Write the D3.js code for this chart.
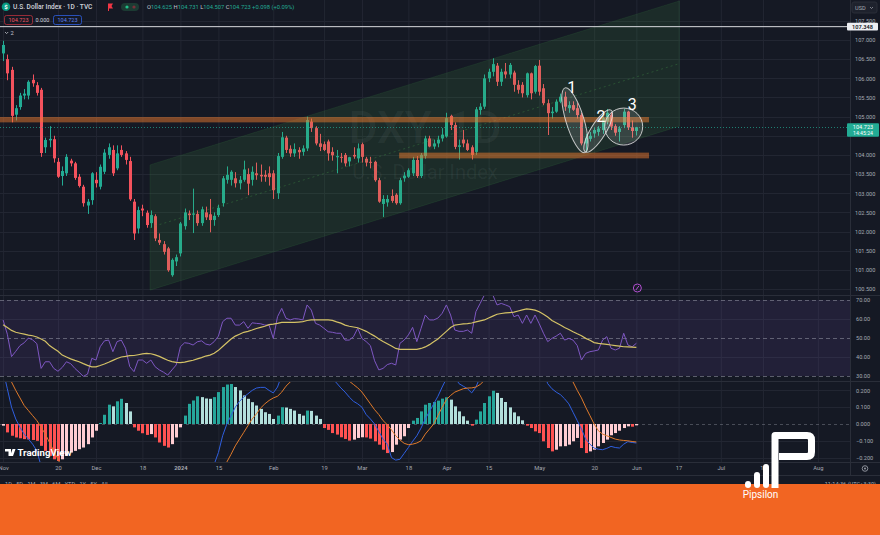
<!DOCTYPE html>
<html><head><meta charset="utf-8">
<script src="https://cdn.jsdelivr.net/npm/d3@7"></script>
<style>
html,body{margin:0;padding:0;background:#151924;overflow:hidden;}
svg{display:block;font-family:Roboto,"Noto Sans",sans-serif;}
</style></head><body>
<svg id="c" width="880" height="535"></svg>
<script>
// ---------- DATA ----------
const opens  = [106.65,106.50,106.22,105.05,105.25,105.55,105.55,105.96,105.82,105.70,104.20,104.38,104.41,103.82,103.45,103.52,103.85,103.78,103.43,103.17,102.68,102.82,103.35,103.17,103.56,104.00,104.13,103.65,104.13,104.04,103.84,102.78,102.08,102.60,102.49,102.22,102.40,101.78,101.67,101.56,100.86,101.22,101.43,102.14,102.47,102.44,102.46,102.22,102.50,102.45,102.30,102.43,102.74,103.35,103.35,103.39,103.26,103.35,103.50,103.35,103.52,103.48,103.48,103.52,103.52,103.00,103.95,104.45,104.16,104.04,104.13,104.08,104.17,104.87,104.70,104.30,104.28,104.35,104.08,103.94,103.95,104.00,103.83,104.00,103.91,104.28,103.90,103.82,103.82,103.34,102.72,102.76,102.93,102.96,102.74,103.39,103.43,103.52,103.87,103.45,103.97,104.43,104.22,104.30,104.43,104.48,105.02,104.78,104.21,104.40,104.30,104.20,104.08,105.17,105.26,106.00,106.17,106.33,105.91,106.18,106.10,106.15,105.83,105.83,105.56,106.13,105.65,106.33,105.74,105.35,105.09,105.13,105.39,105.52,105.22,105.30,105.22,105.04,104.30,104.42,104.56,104.60,104.65,104.87,105.04,104.75,104.60,104.78,105.13,104.72,104.625];
const highs  = [106.98,106.62,106.30,105.30,105.62,105.72,105.95,106.10,105.90,105.75,104.45,104.75,104.50,103.92,103.70,104.02,103.90,103.82,103.50,103.22,102.85,103.55,103.55,103.75,104.15,104.30,104.25,104.25,104.25,104.10,103.95,102.85,102.65,102.70,102.55,102.55,102.45,101.95,101.75,101.60,101.30,101.40,102.25,102.60,102.55,103.12,102.55,102.65,102.65,102.85,102.50,102.70,103.45,103.70,103.60,103.55,103.45,103.85,103.65,103.70,103.80,103.75,103.60,103.70,103.60,104.05,104.60,104.50,104.25,104.30,104.20,104.25,105.00,104.95,104.75,104.55,104.35,104.40,104.20,104.13,104.05,104.05,103.95,104.20,104.30,104.32,103.95,103.95,103.85,103.40,102.95,102.95,103.10,103.00,103.40,103.55,103.65,103.95,103.97,104.05,104.50,104.50,104.40,104.50,104.70,105.10,105.05,104.85,104.40,104.65,104.40,104.25,105.25,105.35,106.10,106.25,106.52,106.40,106.25,106.40,106.40,106.20,105.95,105.90,106.15,106.15,106.35,106.48,105.85,105.45,105.25,105.45,105.60,105.65,105.40,105.40,105.35,105.10,104.55,104.60,104.70,104.75,105.00,105.20,105.10,104.80,104.75,105.20,105.15,104.90,104.731];
const lows   = [106.45,105.95,104.85,104.90,105.18,105.45,105.45,105.78,105.55,103.95,104.05,104.20,103.80,103.40,103.20,103.45,103.70,103.35,103.15,102.65,102.46,102.70,103.15,103.10,103.50,103.90,103.45,103.60,103.95,103.75,102.80,101.78,101.95,102.40,102.10,102.10,101.75,101.65,101.40,100.95,100.82,101.10,101.35,102.05,102.30,101.96,102.15,102.15,102.30,101.98,102.15,102.38,102.65,103.25,103.20,103.15,103.10,103.30,102.95,103.20,103.35,103.30,103.30,103.20,102.85,102.85,103.90,104.05,103.95,103.95,103.90,103.98,104.10,104.60,104.25,104.10,104.10,103.85,103.85,103.52,103.80,103.70,103.70,103.90,103.80,103.80,103.70,103.65,103.30,102.75,102.38,102.65,102.75,102.70,102.70,103.30,103.40,103.45,103.40,103.40,103.90,104.20,104.15,104.20,104.35,104.45,104.65,104.15,103.88,104.20,104.10,103.88,104.00,105.05,105.20,105.90,106.05,105.80,105.80,106.00,106.00,105.65,105.60,105.50,105.50,105.45,105.60,105.55,105.30,104.52,104.95,105.10,105.35,105.15,105.10,105.15,104.95,104.25,104.08,104.35,104.45,104.50,104.55,104.80,104.65,104.50,104.35,104.70,104.65,104.45,104.507];
const closes = [106.87,106.13,105.02,105.22,105.55,105.60,105.91,105.87,105.62,104.05,104.39,104.42,103.91,103.43,103.58,103.95,103.78,103.40,103.19,102.74,102.78,103.52,103.26,103.69,104.06,104.20,103.52,104.04,104.00,103.87,102.84,101.95,102.56,102.55,102.17,102.43,101.82,101.71,101.47,100.99,101.26,101.33,102.21,102.50,102.43,102.47,102.22,102.58,102.37,102.30,102.41,102.62,103.39,103.48,103.56,103.26,103.35,103.62,103.25,103.56,103.47,103.44,103.43,103.42,103.08,103.97,104.46,104.13,104.04,104.15,104.07,104.17,104.91,104.70,104.30,104.21,104.13,104.04,103.99,103.97,103.93,103.78,103.94,103.96,104.17,103.95,103.80,103.81,103.34,102.78,102.85,102.85,102.80,102.74,103.34,103.46,103.60,103.87,103.45,104.00,104.43,104.22,104.30,104.40,104.53,104.96,104.78,104.21,104.25,104.30,104.13,104.00,105.19,105.26,106.00,106.17,106.37,105.91,106.17,106.10,106.35,105.83,105.70,105.61,106.13,105.61,106.32,105.65,105.35,105.09,105.13,105.39,105.52,105.26,105.30,105.18,105.04,104.30,104.45,104.50,104.65,104.69,104.96,105.10,104.74,104.58,104.69,105.13,104.72,104.625,104.723];

const rsiValues = [59.5,52,40.2,43,46,47.5,50,49,47,34, 37.5,37.5,34,32.5,34.5,37.5,36.5,34,32,29.8, 31,39.3,38.4,45.4,48.5,48.9,42.8,48.1,48.9,44.6, 34.9,32.3,38.4,38.4,36.7,38.4,34.9,33.2,32,30.5, 33.2,35.8,45.4,47.5,47.2,46.3,48,48.5,46.8,46.3, 48.1,51,58.6,60.4,60.4,56.8,56.8,58.6,55.1,58, 57.7,57.5,56.8,56.8,49.8,61.2,65.6,60.4,59.5,60.2, 60,59.5,67.4,64.7,57.7,56.8,55.1,53.3,53,52.5, 52.5,48.9,48.9,50.7,55.1,49.8,48.1,46,38,33.2, 34,36,36.7,35.8,47.2,48.9,51.6,55.6,48.1,55.1, 62.1,59.5,59.5,60.5,63,67.4,62.1,54.2,53.5,53.5, 54.2,52.5,63.9,68.2,72.6,73.5,72.6,67.4,68.2,67.4, 66.5,61.2,62.1,57.7,62.1,57.7,62.1,57.5,52.5,48.1, 49.8,51,52.5,48.9,49.8,48.9,46,38.4,41.9,42.8, 43.2,43.7,48.9,50.7,44.6,43.7,44.6,52.5,46.3,45.4,47.2];
const rsiMA = [57,55.5,54,53,52.5,52,51.5,51.2,50.5,49.5, 48.3,46,44.5,43,41,40,39,38.2,37.5,36.5, 35.6,34.8,34.8,35.5,36.3,37.2,38.2,39.2,40,40.3, 40.7,40.8,41.2,41.6,41.9,41.7,41.1,40.3,39.3,38.3, 37.6,37.2,37,37.3,37.8,38.3,39,39.7,40.5,41, 42,43.5,45.5,47.5,49.5,51,52,53,53.5,54.2, 55,55.6,56.2,57,57.3,57.7,58.2,58.2,58.2,58.2, 58.4,58.6,59.2,59.5,59.5,59.5,59.5,59.5,59.3,58.5, 57.8,56.8,56.2,55.8,55.4,54.5,53.5,52.2,51,49.5, 48.2,47,45.8,44.5,44,44,44,44,44,44.5, 45.3,46.5,48,49.5,51.5,53.5,55.5,56.8,57.1,57.4, 57.6,57.9,58.5,59,59.5,60.5,61.5,62.5,62.9,63.2, 63.4,63.6,64.2,64.8,65.3,65.1,64.7,63.8,62.5,61, 59.2,58,56.8,55.5,54.5,53.3,52.2,51.2,49.8,48.8, 47.6,47.2,46.9,46.6,46.3,46,45.7,45.4,45.3,45.2,45.1];

const macdLine = [0.32,0.21,0.10,0.03,-0.02,-0.06,-0.09,-0.12,-0.16,-0.25, -0.31,-0.37,-0.43,-0.49,-0.51,-0.53,-0.55,-0.57,-0.60,-0.64, -0.65,-0.62,-0.60,-0.55,-0.50,-0.44,-0.42,-0.37,-0.34,-0.35, -0.39,-0.48,-0.51,-0.53,-0.55,-0.56,-0.60,-0.65,-0.69,-0.72, -0.72,-0.70,-0.64,-0.56,-0.46,-0.41,-0.35,-0.31,-0.28,-0.27, -0.24,-0.17,-0.07,0.0,0.05,0.10,0.135,0.16,0.18,0.20, 0.214,0.218,0.218,0.20,0.185,0.22,0.29,0.33,0.34,0.35, 0.35,0.35,0.40,0.42,0.40,0.39,0.33,0.30,0.27,0.244, 0.215,0.19,0.16,0.135,0.12,0.10,0.056,0.03,0.0,-0.045, -0.09,-0.12,-0.20,-0.215,-0.21,-0.175,-0.14,-0.103,-0.07,-0.024, 0.03,0.075,0.12,0.165,0.22,0.27,0.30,0.28,0.24,0.225, 0.21,0.185,0.22,0.28,0.37,0.44,0.50,0.53,0.55,0.56, 0.56,0.54,0.52,0.50,0.47,0.44,0.41,0.37,0.31,0.24, 0.21,0.19,0.175,0.15,0.12,0.07,0.02,-0.03,-0.09,-0.12, -0.143,-0.15,-0.153,-0.145,-0.133,-0.14,-0.143,-0.12,-0.105,-0.11,-0.113];
const signalLine = [0.30,0.28,0.25,0.20,0.155,0.11,0.08,0.05,0.02,-0.02, -0.06,-0.11,-0.16,-0.21,-0.26,-0.31,-0.35,-0.39,-0.43,-0.47, -0.50,-0.53,-0.55,-0.56,-0.56,-0.55,-0.53,-0.51,-0.49,-0.47, -0.46,-0.46,-0.47,-0.48,-0.49,-0.50,-0.52,-0.54,-0.56,-0.58, -0.60,-0.62,-0.62,-0.61,-0.58,-0.55,-0.51,-0.47,-0.43,-0.39, -0.35,-0.31,-0.27,-0.226,-0.18,-0.13,-0.09,-0.05,-0.01,0.03, 0.06,0.095,0.12,0.14,0.155,0.165,0.19,0.225,0.25,0.27, 0.29,0.30,0.32,0.34,0.35,0.355,0.35,0.34,0.33,0.315, 0.295,0.275,0.255,0.235,0.215,0.19,0.155,0.12,0.085,0.056, 0.02,-0.004,-0.035,-0.07,-0.095,-0.115,-0.123,-0.12,-0.113,-0.10, -0.06,-0.03,0.0,0.05,0.10,0.145,0.17,0.19,0.20,0.21, 0.214,0.215,0.22,0.235,0.26,0.29,0.33,0.37,0.40,0.43, 0.45,0.46,0.465,0.46,0.455,0.445,0.43,0.415,0.40,0.38, 0.36,0.34,0.32,0.30,0.28,0.25,0.20,0.155,0.10,0.05, 0.0,-0.04,-0.06,-0.07,-0.08,-0.09,-0.095,-0.098,-0.10,-0.104,-0.107];
const histogram = [-0.01,-0.05,-0.07,-0.08,-0.085,-0.09,-0.092,-0.095,-0.10,-0.13, -0.16,-0.19,-0.21,-0.22,-0.21,-0.19,-0.17,-0.16,-0.15,-0.14, -0.12,-0.08,-0.04,0.006,0.055,0.115,0.105,0.135,0.15,0.125, 0.075,-0.02,-0.04,-0.055,-0.065,-0.06,-0.08,-0.11,-0.13,-0.14, -0.12,-0.08,-0.02,0.05,0.12,0.14,0.165,0.16,0.152,0.15, 0.16,0.19,0.22,0.235,0.238,0.22,0.20,0.17,0.15,0.13, 0.11,0.09,0.07,0.06,0.03,0.05,0.10,0.098,0.09,0.08, 0.06,0.05,0.08,0.078,0.05,0.03,-0.024,-0.035,-0.054,-0.063, -0.079,-0.089,-0.099,-0.093,-0.083,-0.079,-0.08,-0.087,-0.103,-0.123, -0.153,-0.173,-0.167,-0.123,-0.093,-0.073,-0.024,0.02,0.036,0.075, 0.115,0.125,0.131,0.139,0.151,0.159,0.145,0.105,0.075,0.046, 0.02,-0.01,0.026,0.075,0.125,0.165,0.198,0.185,0.155,0.131, 0.099,0.069,0.046,0.022,-0.01,-0.024,-0.044,-0.054,-0.103,-0.143, -0.163,-0.153,-0.133,-0.132,-0.123,-0.103,-0.083,-0.143,-0.173,-0.163, -0.153,-0.133,-0.113,-0.093,-0.067,-0.054,-0.04,-0.024,-0.014,-0.016,-0.008];

const timeTickIdx    = [0,13,22,33,42,51,64,76,85,96,105,115,127,140,150,160,170,180,193];
const timeTickLabels = ["Nov","20","Dec","18","2024","15","Feb","19","Mar","18","Apr","15","May","20","Jun","17","Jul","15","Aug"];
const priceTicks = [100.5,101,101.5,102,102.5,103,103.5,104,104.5,105,105.5,106,106.5,107,107.5];
const rsiTicks   = [30,40,50,60,70];
const macdTicks  = [-0.2,-0.1,0,0.1,0.2];

// drawings, in data units (bar index, price)
const channelIdx   = [34.8,160.2];
const channelUpper = [103.74,108.02];
const channelLower = [100.47,104.75];
const zoneUpper = {i0:-1, i1:153, p0:104.85, p1:104.99};
const zoneLower = {i0:93.8, i1:153, p0:103.91, p1:104.06};
const hLinePrice = 107.348;
const lastPrice = 104.723;
const waveEllipses = [
  {a:[133.1,105.75], b:[137.8,104.06]},
  {a:[137.9,104.08], b:[144.0,105.17]}
];
const waveCircle = {i:147.0, p:104.74};
const waveLabels = [{t:"1",i:134.7,p:105.62},{t:"2",i:141.6,p:104.86},{t:"3",i:149.0,p:105.17}];

// ---------- SCALES ----------
const svg = d3.select("#c");
const x  = d3.scaleLinear().domain([0,193]).range([3.1,817.9]);
const yP = d3.scaleLinear().domain([100.5,107]).range([289,40]);
const yR = d3.scaleLinear().domain([30,70]).range([376,300]);
const yM = d3.scaleLinear().domain([-0.2,0.2]).range([457.6,390.4]);
const PW = 850;
const panes = {main:[0,295.5], rsi:[296,381.5], macd:[382,462]};

const BG="#151924", GRID="#222632", TXT="#a6a9b2", UP="#22ab94", DN="#f4525d";
svg.append("rect").attr("width",880).attr("height",535).attr("fill",BG);

const defs = svg.append("defs");
Object.entries(panes).forEach(([k,[t,b]])=>{
  defs.append("clipPath").attr("id","clip-"+k).append("rect").attr("x",0).attr("y",t).attr("width",PW).attr("height",b-t);
});

// ---------- GRID ----------
const grid = svg.append("g");
Object.values(panes).forEach(([t,b])=>{
  grid.selectAll(null).data(timeTickIdx).enter().append("line")
    .attr("x1",d=>x(d)+0.5).attr("x2",d=>x(d)+0.5).attr("y1",t).attr("y2",b)
    .attr("stroke",GRID).attr("stroke-width",1);
});
grid.selectAll(null).data(priceTicks).enter().append("line")
  .attr("x1",0).attr("x2",PW).attr("y1",d=>Math.round(yP(d))+0.5).attr("y2",d=>Math.round(yP(d))+0.5)
  .attr("stroke",GRID);
grid.selectAll(null).data([40,60]).enter().append("line")
  .attr("x1",0).attr("x2",PW).attr("y1",d=>Math.round(yR(d))+0.5).attr("y2",d=>Math.round(yR(d))+0.5).attr("stroke",GRID);
grid.selectAll(null).data([-0.1,0.1,0.2,-0.2]).enter().append("line")
  .attr("x1",0).attr("x2",PW).attr("y1",d=>Math.round(yM(d))+0.5).attr("y2",d=>Math.round(yM(d))+0.5).attr("stroke",GRID);

// ---------- MAIN PANE ----------
const main = svg.append("g").attr("clip-path","url(#clip-main)");
// watermark
main.append("text").attr("x",425).attr("y",143).attr("text-anchor","middle")
  .attr("font-size",44).attr("font-weight",500).attr("fill","rgba(190,195,210,0.08)").text("DXY, 1D");
main.append("text").attr("x",425).attr("y",179).attr("text-anchor","middle")
  .attr("font-size",20).attr("fill","rgba(190,195,210,0.08)").text("U.S. Dollar Index");

// candles
const bars = d3.range(closes.length);
main.selectAll("line.wick").data(bars).enter().append("line")
  .attr("x1",i=>Math.round(x(i))+0.5).attr("x2",i=>Math.round(x(i))+0.5)
  .attr("y1",i=>yP(highs[i])).attr("y2",i=>yP(lows[i]))
  .attr("stroke",i=>closes[i]>=opens[i]?UP:DN).attr("stroke-width",1);
main.selectAll("rect.body").data(bars).enter().append("rect")
  .attr("x",i=>Math.round(x(i))-1).attr("width",3)
  .attr("y",i=>yP(Math.max(opens[i],closes[i])))
  .attr("height",i=>Math.max(1,Math.abs(yP(opens[i])-yP(closes[i]))))
  .attr("fill",i=>closes[i]>=opens[i]?UP:DN);

// channel
const chPts = [[x(channelIdx[0]),yP(channelUpper[0])],[x(channelIdx[1]),yP(channelUpper[1])],
               [x(channelIdx[1]),yP(channelLower[1])],[x(channelIdx[0]),yP(channelLower[0])]];
main.append("path").attr("d",d3.line()(chPts)+"Z")
  .attr("fill","rgba(76,175,80,0.13)").attr("stroke","rgba(76,175,80,0.12)").attr("stroke-width",1);
main.append("line")
  .attr("x1",x(channelIdx[0])).attr("y1",(yP(channelUpper[0])+yP(channelLower[0]))/2)
  .attr("x2",x(channelIdx[1])).attr("y2",(yP(channelUpper[1])+yP(channelLower[1]))/2)
  .attr("stroke","rgba(76,175,80,0.28)").attr("stroke-dasharray","2,3");

// zones
[zoneUpper,zoneLower].forEach(z=>{
  main.append("rect").attr("x",x(z.i0)).attr("width",x(z.i1)-x(z.i0))
    .attr("y",yP(z.p1)).attr("height",yP(z.p0)-yP(z.p1))
    .attr("fill","rgba(235,122,45,0.5)");
});

// horizontal line 107.348
main.append("line").attr("x1",0).attr("x2",PW).attr("y1",yP(hLinePrice)).attr("y2",yP(hLinePrice))
  .attr("stroke","#d8d9de").attr("stroke-width",1);
// price line
main.append("line").attr("x1",0).attr("x2",PW).attr("y1",Math.round(yP(lastPrice))+0.5).attr("y2",Math.round(yP(lastPrice))+0.5)
  .attr("stroke",UP).attr("stroke-opacity",0.7).attr("stroke-dasharray","1,2");

// wave ellipses
waveEllipses.forEach((e,k)=>{
  const ax=x(e.a[0]), ay=yP(e.a[1]), bx=x(e.b[0]), by=yP(e.b[1]);
  const cx=(ax+bx)/2, cy=(ay+by)/2, len=Math.hypot(bx-ax,by-ay);
  const ang=Math.atan2(by-ay,bx-ax)*180/Math.PI;
  main.append("ellipse").attr("cx",cx).attr("cy",cy).attr("rx",len/2).attr("ry",k===0?9:7.5)
    .attr("transform",`rotate(${ang},${cx},${cy})`)
    .attr("fill","rgba(255,255,255,0.12)").attr("stroke","rgba(225,225,225,0.85)").attr("stroke-width",1);
});
main.append("ellipse").attr("cx",x(waveCircle.i)).attr("cy",yP(waveCircle.p)).attr("rx",19).attr("ry",18.5)
  .attr("fill","rgba(255,255,255,0.12)").attr("stroke","rgba(225,225,225,0.85)").attr("stroke-width",1);
main.selectAll("text.wl").data(waveLabels).enter().append("text")
  .attr("x",d=>x(d.i)).attr("y",d=>yP(d.p)).attr("text-anchor","middle")
  .attr("font-size",16).attr("fill","#ffffff").text(d=>d.t);

// event marker
svg.append("circle").attr("cx",x(150)+1).attr("cy",288).attr("r",4).attr("fill","none")
  .attr("stroke","#b24fd0").attr("stroke-width",1);
svg.append("path").attr("d",`M${x(150)-0.5},290 L${x(150)+2.5},286`).attr("stroke","#b24fd0").attr("stroke-width",1);

// ---------- RSI PANE ----------
const rsiG = svg.append("g").attr("clip-path","url(#clip-rsi)");
rsiG.append("rect").attr("x",0).attr("width",PW).attr("y",yR(70)).attr("height",yR(30)-yR(70))
  .attr("fill","rgba(126,87,194,0.13)");
[70,50,30].forEach(v=>{
  rsiG.append("line").attr("x1",0).attr("x2",PW).attr("y1",Math.round(yR(v))+0.5).attr("y2",Math.round(yR(v))+0.5)
    .attr("stroke","rgba(150,152,165,0.55)").attr("stroke-dasharray","4,3");
});
rsiG.append("path").datum(rsiValues).attr("fill","none").attr("stroke","#7e57c2").attr("stroke-width",1)
  .attr("d",d3.line().x((d,i)=>x(i)).y(d=>yR(d)));
rsiG.append("path").datum(rsiMA).attr("fill","none").attr("stroke","#d4c266").attr("stroke-width",1.2)
  .attr("d",d3.line().x((d,i)=>x(i)).y(d=>yR(d)));

// ---------- MACD PANE ----------
const mG = svg.append("g").attr("clip-path","url(#clip-macd)");
mG.append("line").attr("x1",0).attr("x2",PW).attr("y1",Math.round(yM(0))+0.5).attr("y2",Math.round(yM(0))+0.5)
  .attr("stroke","rgba(150,152,165,0.4)").attr("stroke-dasharray","3,3");
mG.selectAll("rect.h").data(bars).enter().append("rect")
  .attr("x",i=>Math.round(x(i))-1).attr("width",3)
  .attr("y",i=>Math.min(yM(histogram[i]),yM(0)))
  .attr("height",i=>Math.max(0.8,Math.abs(yM(histogram[i])-yM(0))))
  .attr("fill",i=>{
    const v=histogram[i], p=i>0?histogram[i-1]:v;
    if(v>=0) return v>=p?"#26a69a":"#b2dfdb";
    return v<p?"#ff5252":"#ffcdd2";
  });
mG.append("path").datum(macdLine).attr("fill","none").attr("stroke","#2f5fe0").attr("stroke-width",1)
  .attr("d",d3.line().x((d,i)=>x(i)).y(d=>yM(d)));
mG.append("path").datum(signalLine).attr("fill","none").attr("stroke","#e07a2a").attr("stroke-width",1)
  .attr("d",d3.line().x((d,i)=>x(i)).y(d=>yM(d)));

// TradingView logo
const tv = svg.append("g");
tv.append("path").attr("d","M5,449 h6 v7 h-2.5 v-4.5 h-3.5 Z M12.5,449 h3 l-2.5,7 h-3 Z").attr("fill","#ffffff");
tv.append("text").attr("x",17.5).attr("y",456).attr("font-size",9.6).attr("font-weight",700)
  .attr("fill","#ffffff").text("TradingView");

// ---------- SEPARATORS ----------
[295.5,381.5,462.5,475.5].forEach(yv=>{
  svg.append("line").attr("x1",0).attr("x2",880).attr("y1",yv).attr("y2",yv).attr("stroke","#2a2e39");
});
svg.append("line").attr("x1",850.5).attr("x2",850.5).attr("y1",0).attr("y2",475).attr("stroke","#2a2e39");

// ---------- AXES ----------
function styleAxis(g){ g.select(".domain").remove(); g.selectAll("line").remove();
  g.selectAll("text").attr("fill",TXT).attr("font-size",5.6).attr("font-family","Roboto,sans-serif"); }
// labels hidden behind the last-price tag are not shown (as in the picture)
const visiblePriceTicks = priceTicks.filter(v=>Math.abs(yP(v)-yP(lastPrice)-2.7)>9);
svg.append("g").attr("transform","translate(850,0)")
  .call(d3.axisRight(yP).tickValues(visiblePriceTicks).tickFormat(d3.format(".3f")).tickSize(0).tickPadding(5)).call(styleAxis);
svg.append("g").attr("transform","translate(850,0)")
  .call(d3.axisRight(yR).tickValues(rsiTicks).tickFormat(d3.format(".2f")).tickSize(0).tickPadding(6)).call(styleAxis);
svg.append("g").attr("transform","translate(850,0)")
  .call(d3.axisRight(yM).tickValues(macdTicks).tickFormat(d=>d<0?"\u2212"+d3.format(".3f")(-d):d3.format(".3f")(d)).tickSize(0).tickPadding(6)).call(styleAxis);
const xa = svg.append("g").attr("transform","translate(0,462)")
  .call(d3.axisBottom(x).tickValues(timeTickIdx).tickFormat((d,i)=>timeTickLabels[i]).tickSize(0).tickPadding(4));
xa.select(".domain").remove();
xa.selectAll("text").attr("fill",TXT).attr("font-size",5.8).attr("font-family","Roboto,sans-serif")
  .attr("font-weight",(d,i)=>timeTickLabels[i]==="2024"?700:400);

// axis labels (boxes)
svg.append("rect").attr("x",847).attr("y",yP(hLinePrice)-3.8).attr("width",31).attr("height",7.6).attr("fill","#eceef2").attr("rx",1);
svg.append("text").attr("x",862.5).attr("y",yP(hLinePrice)+2).attr("text-anchor","middle").attr("font-size",5.6)
  .attr("font-weight",600).attr("fill","#131722").text(d3.format(".3f")(hLinePrice));
svg.append("rect").attr("x",847).attr("y",yP(lastPrice)-4).attr("width",32).attr("height",13.5).attr("fill",UP).attr("rx",1);
svg.append("text").attr("x",863).attr("y",yP(lastPrice)+1.8).attr("text-anchor","middle").attr("font-size",5.6)
  .attr("fill","#ffffff").text(d3.format(".3f")(lastPrice));
svg.append("text").attr("x",863).attr("y",yP(lastPrice)+7.6).attr("text-anchor","middle").attr("font-size",5.2)
  .attr("fill","#ffffff").text("14:45:24");
// USD box
svg.append("rect").attr("x",852).attr("y",2).attr("width",25).attr("height",11).attr("fill","#1e222d").attr("stroke","#2a2e39").attr("rx",2);
svg.append("text").attr("x",855).attr("y",9.6).attr("font-size",5.6).attr("fill",TXT).text("USD");
svg.append("path").attr("d","M870,7 l1.5,1.5 l1.5,-1.5").attr("stroke",TXT).attr("fill","none").attr("stroke-width",0.7);
// gear
svg.append("circle").attr("cx",865).attr("cy",468.5).attr("r",2.8).attr("fill","none").attr("stroke",TXT).attr("stroke-width",0.8);
svg.append("circle").attr("cx",865).attr("cy",468.5).attr("r",0.9).attr("fill",TXT);

// ---------- HEADER ----------
const hd = svg.append("g");
hd.append("circle").attr("cx",6).attr("cy",6.8).attr("r",4.3).attr("fill","#089981");
hd.append("text").attr("x",6).attr("y",9).attr("text-anchor","middle").attr("font-size",6).attr("font-weight",700).attr("fill","#fff").text("$");
hd.append("text").attr("x",13).attr("y",9.3).attr("font-size",6.6).attr("font-weight",500).attr("fill","#d1d4dc")
  .text("U.S. Dollar Index \u00b7 1D \u00b7 TVC");
hd.append("path").attr("d","M108,3.5 h5 l-1.5,2.5 l1.5,2.5 h-4 v2.5 h-1 Z").attr("fill","#f23645");
hd.append("rect").attr("x",121).attr("y",3).attr("width",18).attr("height",8).attr("rx",4).attr("fill","#1c3b33");
hd.append("circle").attr("cx",127).attr("cy",7).attr("r",1.6).attr("fill","#22c08a");
hd.append("circle").attr("cx",134).attr("cy",7).attr("r",1.6).attr("fill","#7a2f3a");
const ohlc = hd.append("text").attr("x",147).attr("y",9.3).attr("font-size",5.8);
[["O","104.625 "],["H","104.731 "],["L","104.507 "],["C","104.723 "],["","+0.098 (+0.09%)"]].forEach(([k,v])=>{
  ohlc.append("tspan").attr("fill","#c3c6ce").text(k);
  ohlc.append("tspan").attr("fill",UP).text(v);
});
hd.append("rect").attr("x",4.5).attr("y",15.5).attr("width",28).attr("height",9).attr("rx",2).attr("fill","#151924").attr("stroke","#b8323d").attr("stroke-width",0.8);
hd.append("text").attr("x",18.5).attr("y",22).attr("text-anchor","middle").attr("font-size",5.5).attr("fill","#f05560").text("104.723");
hd.append("text").attr("x",42.5).attr("y",22).attr("text-anchor","middle").attr("font-size",5.5).attr("fill","#d1d4dc").text("0.000");
hd.append("rect").attr("x",53.5).attr("y",15.5).attr("width",28).attr("height",9).attr("rx",2).attr("fill","#151924").attr("stroke","#2f5fe0").attr("stroke-width",0.8);
hd.append("text").attr("x",67.5).attr("y",22).attr("text-anchor","middle").attr("font-size",5.5).attr("fill","#5d83f2").text("104.723");
hd.append("path").attr("d","M5,32 l1.6,1.6 l1.6,-1.6").attr("stroke","#c3c6ce").attr("fill","none").attr("stroke-width",0.8);
hd.append("text").attr("x",10.5).attr("y",35.2).attr("font-size",5.8).attr("fill","#c3c6ce").text("2");

// bottom toolbar (mostly hidden)
svg.append("text").attr("x",5).attr("y",486).attr("font-size",5.6).attr("fill",TXT).attr("word-spacing",3)
  .text("1D 5D 1M 3M 6M YTD 1Y 5Y All");
svg.append("text").attr("x",876).attr("y",486).attr("text-anchor","end").attr("font-size",5.6).attr("fill",TXT)
  .text("11:14:36 (UTC+3:30)");

// ---------- ORANGE FOOTER + LOGO ----------
svg.append("rect").attr("x",0).attr("y",484).attr("width",880).attr("height",51).attr("fill","#f26522");
const lg = svg.append("g").attr("fill","#ffffff");
lg.append("path").attr("d","M775,488 L775,435.5 L807,435.5 Q811.5,435.5 811.5,440 L811.5,452 Q811.5,456.5 807,456.5 L779,456.5")
  .attr("fill","none").attr("stroke","#ffffff").attr("stroke-width",7).attr("stroke-linejoin","round");
lg.append("rect").attr("x",745).attr("y",481).attr("width",6).attr("height",7).attr("rx",3);
lg.append("rect").attr("x",754).attr("y",472).attr("width",6).attr("height",16).attr("rx",3);
lg.append("rect").attr("x",763).attr("y",464).attr("width",6).attr("height",24).attr("rx",3);
lg.append("text").attr("x",760.5).attr("y",497.5).attr("text-anchor","middle").attr("font-size",10).attr("fill","#ffffff").text("Pipsilon");
</script>
</body></html>
